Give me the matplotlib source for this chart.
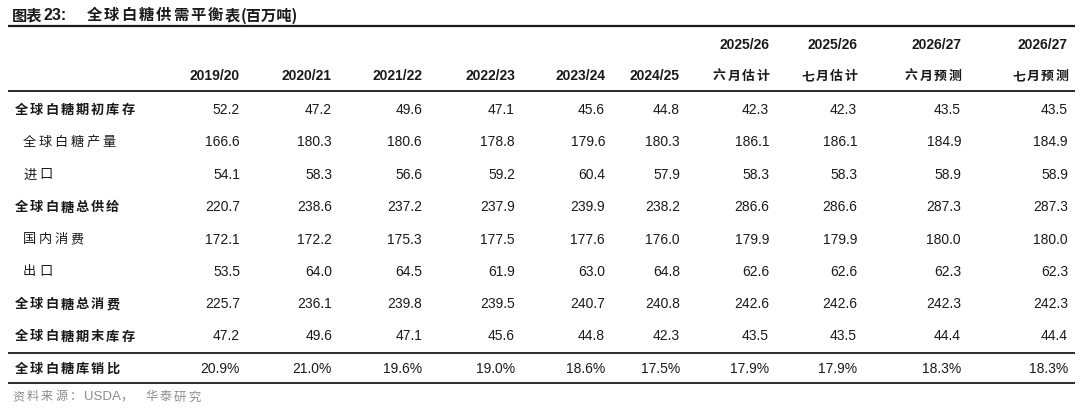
import matplotlib
matplotlib.use("Agg")
import matplotlib.pyplot as plt

title = "图表23:"
title_cn = "全球白糖供需平衡表(百万吨)"
source = "资料来源：USDA，华泰研究"

header_top = ["", "", "", "", "", "", "2025/26", "2025/26", "2026/27", "2026/27"]
header_bottom = ["2019/20", "2020/21", "2021/22", "2022/23", "2023/24", "2024/25",
                 "六月估计", "七月估计", "六月预测", "七月预测"]

row_labels = ["全球白糖期初库存", "全球白糖产量", "进口", "全球白糖总供给", "国内消费",
              "出口", "全球白糖总消费", "全球白糖期末库存", "全球白糖库销比"]
row_bold = [True, False, False, True, False, False, True, True, True]

beginning_stock = [52.2, 47.2, 49.6, 47.1, 45.6, 44.8, 42.3, 42.3, 43.5, 43.5]
production = [166.6, 180.3, 180.6, 178.8, 179.6, 180.3, 186.1, 186.1, 184.9, 184.9]
imports = [54.1, 58.3, 56.6, 59.2, 60.4, 57.9, 58.3, 58.3, 58.9, 58.9]
total_supply = [220.7, 238.6, 237.2, 237.9, 239.9, 238.2, 286.6, 286.6, 287.3, 287.3]
domestic_consumption = [172.1, 172.2, 175.3, 177.5, 177.6, 176.0, 179.9, 179.9, 180.0, 180.0]
exports = [53.5, 64.0, 64.5, 61.9, 63.0, 64.8, 62.6, 62.6, 62.3, 62.3]
total_consumption = [225.7, 236.1, 239.8, 239.5, 240.7, 240.8, 242.6, 242.6, 242.3, 242.3]
ending_stock = [47.2, 49.6, 47.1, 45.6, 44.8, 42.3, 43.5, 43.5, 44.4, 44.4]
stock_to_use = [20.9, 21.0, 19.6, 19.0, 18.6, 17.5, 17.9, 17.9, 18.3, 18.3]

rows = [beginning_stock, production, imports, total_supply, domestic_consumption,
        exports, total_consumption, ending_stock, stock_to_use]
is_pct = [False] * 8 + [True]

# layout (pixel coordinates)
col_right = [240, 332, 422, 515, 605, 680, 769, 857, 961, 1068]
row_y = [110, 142.5, 175, 207.5, 240, 272, 304.5, 336.5, 369]

fig = plt.figure(figsize=(10.8, 4.1), dpi=100)
ax = fig.add_axes([0, 0, 1, 1])
ax.set_xlim(0, 1080)
ax.set_ylim(410, 0)
ax.axis("off")

CJK = ["Noto Sans CJK SC", "DejaVu Sans"]
NUM = ["Liberation Sans", "DejaVu Sans"]
dark = "#1a1a1a"


def spaced(x, y, s, size, bold, step, color=dark):
    for i, ch in enumerate(s):
        ax.text(x + i * step, y, ch, fontsize=size, family=CJK,
                fontweight="bold" if bold else "normal", color=color,
                ha="left", va="center")


# title
ax.text(12, 15, "图表", fontsize=11, family=CJK, fontweight="bold", color=dark,
        ha="left", va="center")
ax.text(43, 15.5, "23:", fontsize=11.5, family=NUM, fontweight="bold", color=dark,
        ha="left", va="center")
spaced(87, 15, "全球白糖供需平衡表", 11, True, 17.2)
ax.text(241, 15.5, "(百万吨)", fontsize=11, family=CJK, fontweight="bold", color=dark,
        ha="left", va="center")

# rules
ax.plot([8, 1075], [27, 27], color=dark, lw=1.6, solid_capstyle="butt")
ax.plot([8, 1075], [92, 92], color=dark, lw=1.3, solid_capstyle="butt")
ax.plot([8, 1075], [353.5, 353.5], color=dark, lw=1.3, solid_capstyle="butt")
ax.plot([8, 1075], [383.5, 383.5], color=dark, lw=1.3, solid_capstyle="butt")

# header
for xr, top, bot in zip(col_right, header_top, header_bottom):
    if top:
        ax.text(xr, 45, top, fontsize=10, family=NUM, fontweight="bold", color=dark,
                ha="right", va="center")
    if bot[0].isdigit():
        ax.text(xr, 76, bot, fontsize=10, family=NUM, fontweight="bold", color=dark,
                ha="right", va="center")
    else:
        step = 14.5
        x0 = xr - step * (len(bot) - 1) - 12.5
        spaced(x0, 76, bot, 9.3, True, step)

# body
for label, bold, vals, pct, y in zip(row_labels, row_bold, rows, is_pct, row_y):
    x0 = 15 if bold else 23
    spaced(x0, y, label, 9.5, bold, 15.2 if bold else 15.8)
    for xr, v in zip(col_right, vals):
        s = f"{v:.1f}%" if pct else f"{v:.1f}"
        ax.text(xr, y, s, fontsize=10, family=NUM, color=dark, ha="right", va="center")

# source
spaced(12, 397, "资料来源：", 8.8, False, 14.5, color="#8c8c8c")
ax.text(84, 397, "USDA，", fontsize=9.5, family=["Liberation Sans", "Noto Sans CJK SC"],
        color="#8c8c8c", ha="left", va="center")
spaced(145, 397, "华泰研究", 8.8, False, 14.5, color="#8c8c8c")

fig.savefig("out.png", dpi=100, facecolor="white")
